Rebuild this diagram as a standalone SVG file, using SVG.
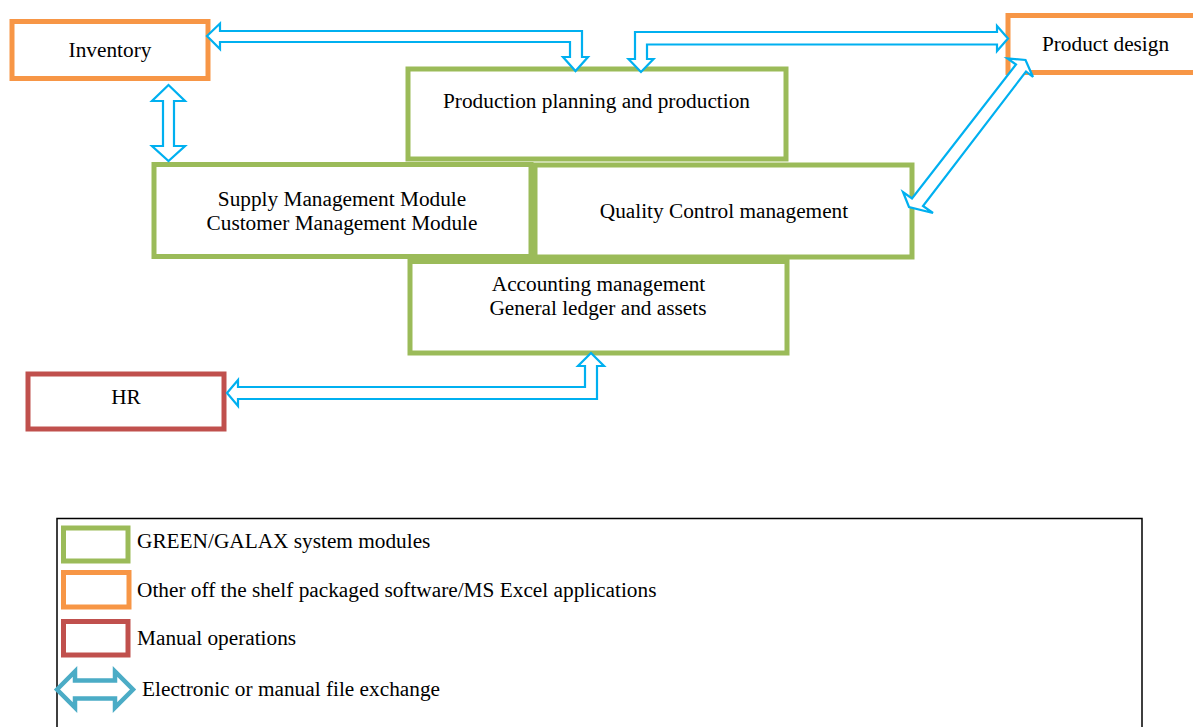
<svg xmlns="http://www.w3.org/2000/svg" width="1193" height="727" viewBox="0 0 1193 727">
<style>
.box{fill:#fff;stroke-width:5}
.g{stroke:#9BBB59}
.o{stroke:#F79646}
.r{stroke:#C0504D}
.arr{fill:#fff;stroke:#00B0F0;stroke-width:2.2;stroke-linejoin:miter}
.t{font-family:"Liberation Serif","Times New Roman",serif;font-size:21.3px;fill:#000}
.c{text-anchor:middle}
</style>
<rect width="1193" height="727" fill="#fff"/>
<g id="inventory"><rect class="box o" x="12" y="21.5" width="196" height="57"/><text class="t c" x="110" y="57">Inventory</text></g>
<g id="product-design"><rect class="box o" x="1008" y="15.5" width="200" height="57"/><text class="t c" x="1105.5" y="51">Product design</text></g>
<g id="production"><rect class="box g" x="408" y="69" width="378" height="90"/><text class="t c" x="596.5" y="108">Production planning and production</text></g>
<g id="supply"><rect class="box g" x="154" y="164.5" width="377" height="92"/><text class="t c" x="342" y="206">Supply Management Module</text><text class="t c" x="342" y="230">Customer Management Module</text></g>
<g id="quality"><rect class="box g" x="535" y="165" width="377" height="92"/><text class="t c" x="724" y="218">Quality Control management</text></g>
<g id="accounting"><rect class="box g" x="410" y="261.5" width="377" height="91.5"/><text class="t c" x="598.5" y="291">Accounting management</text><text class="t c" x="598" y="315">General ledger and assets</text></g>
<g id="hr"><rect class="box r" x="28" y="374" width="196" height="55"/><text class="t c" x="126" y="404">HR</text></g>
<g id="connectors">
<polygon class="arr" points="207,36 220,23.5 220,31 582,31 582,57 588,57 575.5,71 563,57 570,57 570,42 220,42 220,49"/>
<polygon class="arr" points="641,72 628.5,59 635,59 635,32 997,32 997,26 1008,38.5 997,51 997,44.5 647,44.5 647,59 653.5,59"/>
<polygon class="arr" points="168.5,85 185,101 174,101 174,146 185,146 168.5,161 152,146 163,146 163,101 152,101"/>
<polygon class="arr" points="1025.5,60 1033,77 1026,71.5 923,206 933,213 909,207 903,192 912,198.5 1016,64.5 1007.5,58.5"/>
<polygon class="arr" points="227,393 238,380 238,387 585,387 585,366 578,366 591,353 604,366 597,366 597,399 238,399 238,406"/>
</g>
<g id="legend">
<polyline points="57,727 57,518.5 1142,518.5 1142,727" fill="none" stroke="#000" stroke-width="1.5"/>
<rect class="box g" x="63.5" y="528" width="64.5" height="33"/>
<text class="t" x="137" y="548">GREEN/GALAX system modules</text>
<rect class="box o" x="63.5" y="572.5" width="65.5" height="34.5"/>
<text class="t" x="137" y="597">Other off the shelf packaged software/MS Excel applications</text>
<rect class="box r" x="63.5" y="621.5" width="64.5" height="33.5"/>
<text class="t" x="137" y="645">Manual operations</text>
<polygon points="57,689.5 75,671.5 75,680.5 115,680.5 115,671.5 133,689.5 115,707.5 115,698.5 75,698.5 75,707.5" fill="#fff" stroke="#4BACC6" stroke-width="4.5"/>
<text class="t" x="142" y="696">Electronic or manual file exchange</text>
</g>
</svg>
